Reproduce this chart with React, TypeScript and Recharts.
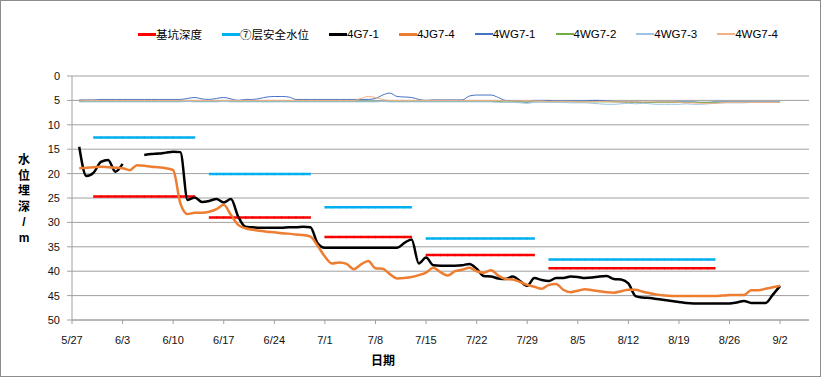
import { CartesianGrid, Label, Legend, Line, LineChart, XAxis, YAxis } from 'recharts'

// day 0 = 5/27
const tickDays = [0, 7, 14, 21, 28, 35, 42, 49, 56, 63, 70, 77, 84, 91, 98]
const tickLabels = ['5/27', '6/3', '6/10', '6/17', '6/24', '7/1', '7/8', '7/15', '7/22', '7/29', '8/5', '8/12', '8/19', '8/26', '9/2']
const depthTicks = [0, 5, 10, 15, 20, 25, 30, 35, 40, 45, 50]

// excavation stages: first day, last day
const stageStart = [3, 19, 35, 49, 66]
const stageEnd = [17, 33, 47, 64, 89]
const pitDepth = [24.7, 29.0, 33.0, 36.7, 39.4]
const safeLevel = [12.6, 20.1, 26.9, 33.3, 37.6]

const g71 = [
  null, 14.5, 20.5, 19.8, 17.6, 17.2, 19.6, 18.0, null, null,
  16.2, 16.0, 15.9, 15.7, 15.5, 15.6, 25.4, 24.9, 25.8, 25.6,
  25.2, 25.9, 25.2, 28.8, 30.9, 31.0, 31.1, 31.1, 31.1, 31.1,
  31.0, 31.0, 30.9, 31.0, 34.3, 35.2, 35.2, 35.2, 35.2, 35.2,
  35.2, 35.2, 35.2, 35.2, 35.2, 35.2, 34.2, 33.5, 38.4, 37.2,
  38.8, 38.9, 38.9, 38.9, 38.8, 38.5, 39.5, 41.0, 41.1, 41.5,
  41.6, 41.1, 42.0, 43.0, 41.4, 41.8, 42.0, 41.4, 41.4, 41.1,
  41.2, 41.4, 41.3, 41.1, 41.0, 41.6, 41.7, 42.5, 45.1, 45.4,
  45.5, 45.7, 45.9, 46.1, 46.3, 46.5, 46.6, 46.6, 46.6, 46.6,
  46.6, 46.6, 46.4, 46.1, 46.5, 46.5, 46.5, 44.8, 43.0,
]

const jg74 = [
  null, 18.9, 18.8, 18.7, 18.6, 18.7, 18.8, 18.9, 19.3, 18.3,
  18.4, 18.6, 18.7, 18.9, 19.3, 26.1, 28.3, 28.0, 28.0, 27.8,
  27.3, 26.4, 28.5, 30.5, 31.2, 31.5, 31.7, 31.9, 32.0, 32.2,
  32.3, 32.5, 32.6, 32.9, 34.8, 37.0, 38.4, 38.2, 38.5, 39.6,
  38.6, 37.9, 39.4, 39.5, 40.6, 41.5, 41.4, 41.2, 40.8, 40.3,
  39.3, 40.2, 40.9, 40.0, 39.7, 39.3, 40.0, 40.3, 39.8, 40.9,
  41.6, 41.7, 42.2, 42.8, 43.2, 43.6, 42.8, 42.6, 43.8, 44.3,
  44.0, 43.7, 43.9, 44.1, 44.3, 44.4, 44.1, 43.8, 43.8, 44.2,
  44.5, 44.8, 45.0, 45.1, 45.1, 45.1, 45.1, 45.1, 45.1, 45.1,
  45.0, 44.9, 44.9, 44.9, 43.9, 43.9, 43.6, 43.3, 43.0,
]

const wg71 = [
  null, 4.9, 4.9, 4.9, 4.8, 4.8, 4.8, 4.8, 4.8, 4.8,
  4.8, 4.8, 4.8, 4.8, 4.8, 4.8, 4.6, 4.4, 4.7, 4.8,
  4.6, 4.4, 4.7, 5.0, 4.8, 4.8, 4.6, 4.3, 4.2, 4.2,
  4.3, 4.8, 4.8, 4.8, 4.8, 4.8, 4.8, 4.8, 4.8, 4.8,
  4.8, 4.8, 4.6, 3.9, 3.5, 4.2, 4.3, 4.4, 4.8, 5.0,
  4.9, 4.9, 4.9, 4.9, 4.9, 4.1, 3.9, 3.9, 3.9, 4.4,
  5.0, 5.1, 5.2, 5.4, 5.0, 5.0, 5.0, 5.1, 5.1, 5.1,
  5.1, 5.1, 5.0, 5.0, 5.1, 5.2, 5.3, 5.3, 5.3, 5.4,
  5.4, 5.3, 5.3, 5.3, 5.3, 5.3, 5.3, 5.4, 5.4, 5.3,
  5.3, 5.3, 5.3, 5.3, 5.3, 5.3, 5.3, 5.3, 5.3,
]

const wg72 = [
  null, 5.2, 5.2, 5.2, 5.2, 5.2, 5.2, 5.2, 5.2, 5.2,
  5.2, 5.2, 5.2, 5.2, 5.2, 5.2, 5.2, 5.2, 5.2, 5.2,
  5.2, 5.2, 5.2, 5.2, 5.2, 5.2, 5.2, 5.2, 5.2, 5.2,
  5.2, 5.2, 5.2, 5.2, 5.2, 5.2, 5.2, 5.2, 5.2, 5.2,
  5.2, 5.2, 5.2, 5.2, 5.2, 5.2, 5.2, 5.2, 5.2, 5.2,
  5.2, 5.2, 5.2, 5.2, 5.2, 5.2, 5.2, 5.2, 5.2, 5.2,
  5.3, 5.3, 5.3, 5.3, 5.3, 5.3, 5.3, 5.3, 5.3, 5.3,
  5.3, 5.3, 5.3, 5.3, 5.3, 5.3, 5.3, 5.4, 5.4, 5.4,
  5.4, 5.4, 5.4, 5.4, 5.4, 5.4, 5.4, 5.4, 5.4, 5.4,
  5.4, 5.4, 5.4, 5.4, 5.4, 5.4, 5.4, 5.4, 5.4,
]

const wg73 = [
  null, 5.3, 5.3, 5.3, 5.3, 5.3, 5.3, 5.3, 5.3, 5.3,
  5.3, 5.3, 5.3, 5.3, 5.3, 5.3, 5.2, 5.3, 5.3, 5.3,
  5.3, 5.2, 5.3, 5.3, 5.3, 5.3, 5.3, 5.3, 5.3, 5.3,
  5.3, 5.3, 5.3, 5.3, 5.3, 5.3, 5.3, 5.3, 5.3, 5.3,
  5.3, 5.3, 5.3, 5.2, 5.3, 5.3, 5.3, 5.3, 5.3, 5.3,
  5.3, 5.3, 5.3, 5.3, 5.3, 5.3, 5.3, 5.3, 5.3, 5.4,
  5.4, 5.4, 5.5, 5.6, 5.4, 5.3, 5.4, 5.4, 5.4, 5.5,
  5.5, 5.5, 5.6, 5.7, 5.8, 5.8, 5.7, 5.6, 5.7, 5.6,
  5.7, 5.8, 5.8, 5.8, 5.8, 5.7, 5.8, 5.8, 5.7, 5.6,
  5.5, 5.5, 5.5, 5.5, 5.4, 5.4, 5.4, 5.4, 5.4,
]

const wg74 = [
  null, 4.9, 5.0, 5.0, 5.0, 5.0, 5.0, 5.0, 5.0, 5.0,
  5.0, 5.0, 5.0, 5.0, 5.0, 5.0, 5.0, 5.0, 5.0, 5.0,
  5.0, 5.0, 5.0, 5.0, 5.0, 5.0, 5.0, 5.0, 5.0, 5.0,
  5.0, 5.0, 5.0, 5.0, 5.0, 5.0, 5.0, 5.0, 5.0, 5.0,
  4.6, 4.2, 4.4, 4.8, 5.0, 5.0, 5.0, 5.0, 5.0, 5.0,
  5.0, 5.0, 5.0, 5.0, 5.0, 5.0, 5.0, 5.0, 5.0, 5.0,
  5.1, 5.1, 5.1, 5.1, 5.1, 5.1, 5.2, 5.2, 5.2, 5.2,
  5.3, 5.3, 5.3, 5.2, 5.2, 5.3, 5.3, 5.3, 5.3, 5.3,
  5.3, 5.3, 5.3, 5.3, 5.4, 5.5, 5.5, 5.6, 5.6, 5.6,
  5.5, 5.4, 5.4, 5.4, 5.4, 5.4, 5.4, 5.4, 5.4,
]

const yTitle = ['水', '位', '埋', '深', '/', 'm']

function stagesToDays(values: number[]) {
  const out: (number | null)[] = g71.map(() => null)
  values.forEach((v, i) => {
    for (let d = stageStart[i]; d <= stageEnd[i]; d++) out[d] = v
  })
  return out
}

const pitByDay = stagesToDays(pitDepth)
const safeByDay = stagesToDays(safeLevel)

const data = g71.map((_, i) => ({
  day: i,
  pit: pitByDay[i],
  safe: safeByDay[i],
  g71: g71[i],
  jg74: jg74[i],
  wg71: wg71[i],
  wg72: wg72[i],
  wg73: wg73[i],
  wg74: wg74[i],
}))

const SERIES = [
  { key: 'pit', name: '基坑深度', color: '#ff0000', width: 2.5, legendWidth: 3 },
  { key: 'safe', name: '⑦层安全水位', color: '#00b0f0', width: 2.5, legendWidth: 3 },
  { key: 'g71', name: '4G7-1', color: '#000000', width: 2.5, legendWidth: 3 },
  { key: 'jg74', name: '4JG7-4', color: '#ed7d31', width: 2.5, legendWidth: 3 },
  { key: 'wg71', name: '4WG7-1', color: '#4472c4', width: 1, legendWidth: 1.5 },
  { key: 'wg72', name: '4WG7-2', color: '#70ad47', width: 1, legendWidth: 1.5 },
  { key: 'wg73', name: '4WG7-3', color: '#9dc3e6', width: 1, legendWidth: 1.5 },
  { key: 'wg74', name: '4WG7-4', color: '#f4b183', width: 1, legendWidth: 1.5 },
]

const FONT = '"Liberation Sans", "Noto Sans CJK SC", sans-serif'
const GRID = '#a0a0a0'

// faint daily hatch marks along the stage lines
const tickDot = (color: string) => (props: any) => {
  const { cx, cy, index } = props
  if (cx == null || cy == null || props.value == null) return <g key={index} />
  return <line key={index} x1={cx} x2={cx} y1={cy - 1.2} y2={cy + 1.2} stroke={color} strokeWidth={0.8} />
}

function LegendRow() {
  return (
    <div style={{ display: 'flex', gap: 20, paddingLeft: 138, fontFamily: FONT, fontSize: 11.5, color: '#000' }}>
      {SERIES.map((s) => (
        <div key={s.key} style={{ display: 'flex', alignItems: 'center', whiteSpace: 'nowrap' }}>
          <span style={{ display: 'inline-block', width: 18, height: s.legendWidth, background: s.color }} />
          <span>{s.name}</span>
        </div>
      ))}
    </div>
  )
}

export default function App() {
  return (
    <div style={{ position: 'absolute', left: 0, top: 0, width: 827, height: 378, background: '#fff' }}>
      <div
        style={{
          position: 'absolute',
          left: 0,
          top: 0,
          width: 821,
          height: 377,
          border: '1px solid #8c8c8c',
          boxSizing: 'border-box',
        }}
      />
      <LineChart width={827} height={378} data={data} margin={{ top: 76, right: 18, bottom: 0, left: 0 }}>
        <CartesianGrid vertical={false} stroke={GRID} />
        <XAxis
          dataKey="day"
          type="number"
          domain={[0, 102]}
          ticks={tickDays}
          interval={0}
          height={58}
          tickSize={4}
          tickMargin={12}
          stroke={GRID}
          tick={{ fill: '#111', fontSize: 11, fontFamily: FONT }}
          tickFormatter={(v: number) => tickLabels[tickDays.indexOf(v)] ?? ''}
        >
          <Label
            content={() => (
              <text x={383} y={365} textAnchor="middle" fontFamily={FONT} fontSize={12} fontWeight="bold" fill="#000">
                日期
              </text>
            )}
          />
        </XAxis>
        <YAxis
          reversed
          domain={[0, 50]}
          ticks={depthTicks}
          interval={0}
          width={72}
          tickSize={5}
          tickMargin={7}
          stroke={GRID}
          tick={{ fill: '#111', fontSize: 11, fontFamily: FONT }}
        >
          <Label
            content={() => (
              <text x={24} textAnchor="middle" fontFamily={FONT} fontSize={12} fontWeight="bold" fill="#000">
                {yTitle.map((c, i) => (
                  <tspan key={i} x={24} y={164 + i * 15.5}>
                    {c}
                  </tspan>
                ))}
              </text>
            )}
          />
        </YAxis>
        <Legend
          verticalAlign="middle"
          align="center"
          layout="horizontal"
          wrapperStyle={{ top: 26, left: 0, width: 827 }}
          content={() => <LegendRow />}
        />
        {SERIES.map((s) => (
          <Line
            key={s.key}
            dataKey={s.key}
            name={s.name}
            stroke={s.color}
            strokeWidth={s.width}
            type={s.key === 'pit' || s.key === 'safe' ? 'linear' : 'monotone'}
            dot={s.key === 'pit' ? tickDot('#d40000') : s.key === 'safe' ? tickDot('#10a8e8') : false}
            activeDot={false}
            isAnimationActive={false}
          />
        ))}
      </LineChart>
    </div>
  )
}
